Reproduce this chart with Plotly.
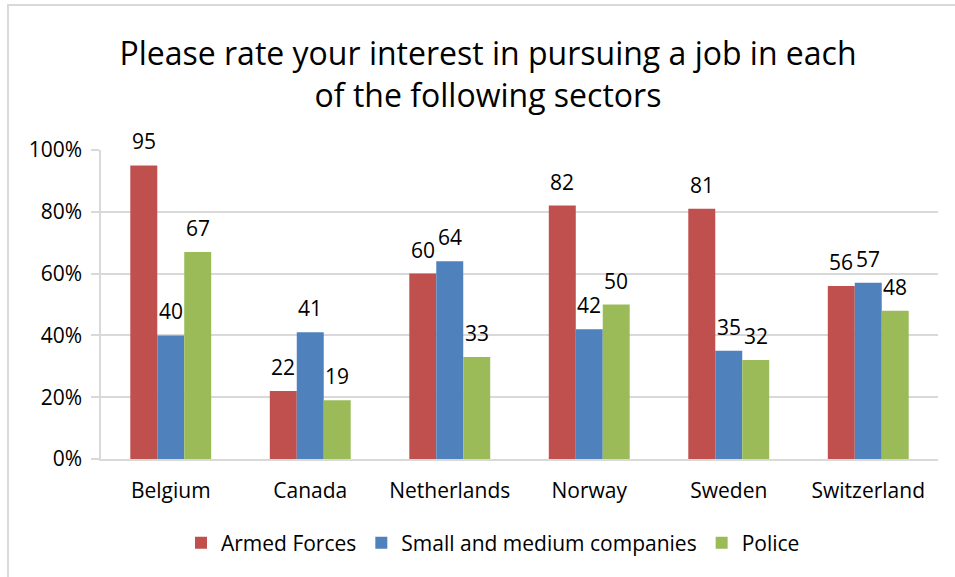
import plotly.graph_objects as go

# Survey results: share of respondents interested in each sector, by country
countries = ["Belgium", "Canada", "Netherlands", "Norway", "Sweden", "Switzerland"]
armed_forces = [95, 22, 60, 82, 81, 56]
small_medium = [40, 41, 64, 42, 35, 57]
police = [67, 19, 33, 50, 32, 48]

series_names = ["Armed Forces", "Small and medium companies", "Police"]
series_values = [armed_forces, small_medium, police]
series_colors = ["#C0504D", "#4F81BD", "#9BBB59"]

FONT = "Open Sans, Carlito, Calibri, sans-serif"
TXT = 21
BARGAP = 0.42
W, H = 955, 577
L, R, T, B = 101, 17, 150, 118

fig = go.Figure()
for name, vals, col in zip(series_names, series_values, series_colors):
    fig.add_trace(go.Bar(
        name=name,
        x=list(range(len(countries))),
        y=[v / 100 for v in vals],
        marker=dict(color=col, line=dict(width=0)),
    ))

# Value labels sitting above each bar
n = len(series_values)
bar_w = (1 - BARGAP) / n
annotations = []
for j, vals in enumerate(series_values):
    off = (j - (n - 1) / 2) * bar_w
    for i, v in enumerate(vals):
        annotations.append(dict(
            x=i + off, y=v / 100, xref="x", yref="y",
            text=str(v), showarrow=False, yshift=24,
            font=dict(family=FONT, size=TXT, color="#000000"),
        ))

pw = W - L - R
ph = H - T - B
fig.update_layout(
    width=W, height=H,
    margin=dict(l=L, r=R, t=T, b=B),
    paper_bgcolor="white", plot_bgcolor="white",
    barmode="group", bargap=BARGAP, bargroupgap=0,
    font=dict(family=FONT, size=TXT, color="#000000"),
    title=dict(
        text="Please rate your interest in pursuing a job in each<br>of the following sectors",
        x=488 / W, xanchor="center", xref="container",
        y=1 - 65 / H, yanchor="middle", yref="container",
        font=dict(family=FONT, size=32, color="#000000"),
    ),
    xaxis=dict(
        tickmode="array", tickvals=list(range(len(countries))), ticktext=countries,
        range=[-0.5, len(countries) - 0.5],
        showline=True, linecolor="#D9D9D9", linewidth=1.5,
        ticks="", showgrid=False, zeroline=False,
        ticklabelstandoff=12,
        tickfont=dict(family=FONT, size=TXT),
    ),
    yaxis=dict(
        range=[0, 1], dtick=0.2, tickformat=".0%",
        showline=True, linecolor="#D9D9D9", linewidth=1.5,
        showgrid=True, gridcolor="#D9D9D9", gridwidth=1.5,
        ticks="outside", ticklen=8, tickcolor="#D9D9D9", tickwidth=1.5,
        zeroline=False, ticklabelstandoff=5,
        tickfont=dict(family=FONT, size=TXT),
    ),
    legend=dict(
        orientation="h", x=(493 - L) / pw, xanchor="center",
        y=-(543 - (T + ph)) / ph, yanchor="middle",
        font=dict(family=FONT, size=TXT), itemwidth=30,
        traceorder="normal",
    ),
    annotations=annotations,
    shapes=[dict(
        type="rect", xref="paper", yref="paper",
        x0=(8 - L) / pw, x1=(990 - L) / pw,
        y0=-(600 - (T + ph)) / ph, y1=(T + ph - 5) / ph,
        line=dict(color="#D9D9D9", width=2), fillcolor="rgba(0,0,0,0)",
        layer="below",
    )],
)

fig.write_html("out.html")
